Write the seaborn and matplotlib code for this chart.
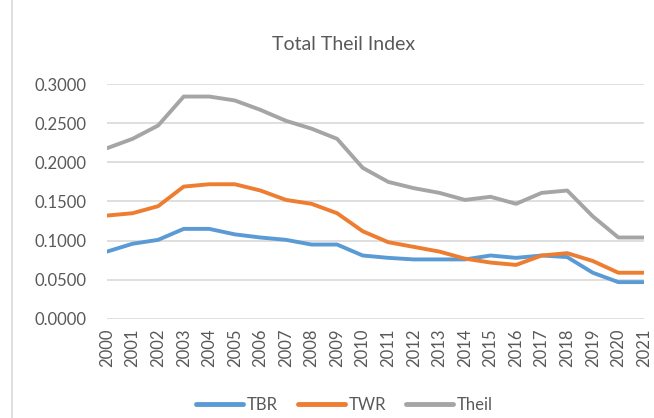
import matplotlib
matplotlib.use("Agg")
import matplotlib.pyplot as plt
import seaborn as sns
import pandas as pd

# Dados
years = list(range(2000, 2022))
tbr = [0.086, 0.096, 0.101, 0.115, 0.115, 0.108, 0.104, 0.101, 0.095, 0.095, 0.081,
       0.078, 0.076, 0.076, 0.076, 0.081, 0.078, 0.081, 0.079, 0.059, 0.047, 0.047]
twr = [0.132, 0.135, 0.144, 0.169, 0.172, 0.172, 0.164, 0.152, 0.147, 0.135, 0.112,
       0.098, 0.092, 0.086, 0.077, 0.072, 0.069, 0.081, 0.084, 0.074, 0.059, 0.059]
theil = [0.218, 0.230, 0.247, 0.284, 0.284, 0.279, 0.267, 0.253, 0.243, 0.230, 0.193,
         0.175, 0.167, 0.161, 0.152, 0.156, 0.147, 0.161, 0.164, 0.131, 0.104, 0.104]
series_names = ["TBR", "TWR", "Theil"]
y_ticks = [0.0, 0.05, 0.10, 0.15, 0.20, 0.25, 0.30]

df = pd.DataFrame({"Ano": years, "TBR": tbr, "TWR": twr, "Theil": theil})
df_long = df.melt(id_vars="Ano", value_vars=series_names, var_name="Série", value_name="Valor")

sns.set_style("white")
plt.rcParams["font.family"] = ["Lato", "DejaVu Sans"]

cores = {"TBR": "#5B9BD5", "TWR": "#ED7D31", "Theil": "#A5A5A5"}
texto = "#595959"

fig = plt.figure(figsize=(6.54, 4.18), dpi=100)
ax = fig.add_axes([0.1636, 0.237, 0.821, 0.562])

sns.lineplot(data=df_long, x="Ano", y="Valor", hue="Série", hue_order=series_names,
             palette=cores, linewidth=2.8, ax=ax, legend=False)

ax.set_xlim(years[0], years[-1])
ax.set_ylim(0, 0.3)
ax.set_xticks(years)
ax.set_xticklabels([str(y) for y in years], rotation=90, fontsize=12, color=texto)
ax.set_yticks(y_ticks)
ax.set_yticklabels([f"{v:.4f}" for v in y_ticks], fontsize=12, color=texto)
ax.tick_params(axis="both", length=0, pad=7)
ax.tick_params(axis="y", pad=15)
ax.yaxis.grid(True, color="#D9D9D9", linewidth=1.2)
ax.set_axisbelow(True)
for s in ax.spines.values():
    s.set_visible(False)
ax.set_xlabel("")
ax.set_ylabel("")

fig.text(0.525, 0.893, "Total Theil Index", ha="center", va="center", fontsize=14, color=texto)

# Legenda na parte de baixo
handles = [plt.Line2D([], [], color=cores[n], linewidth=3.5) for n in series_names]
fig.legend(handles, series_names, loc="center", bbox_to_anchor=(0.527, 0.031), ncol=3,
           frameon=False, fontsize=12, handlelength=2.8, columnspacing=1.2,
           handletextpad=0.25, labelcolor=texto)

# Borda da área do gráfico
fig.add_artist(plt.Line2D([0.019, 0.019], [0, 1], color="#D9D9D9", linewidth=1.2,
                          transform=fig.transFigure))

fig.savefig("out.png", dpi=100)
